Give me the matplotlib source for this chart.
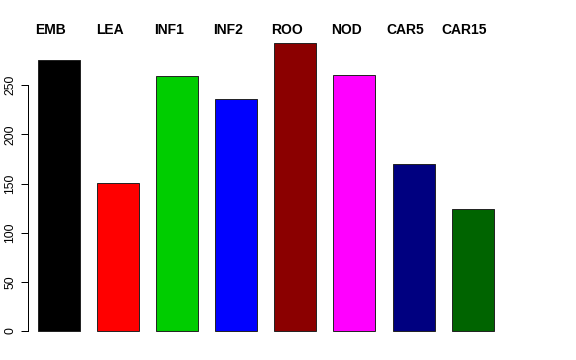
import matplotlib
matplotlib.use("Agg")
import matplotlib.pyplot as plt

# data
tissues = ["EMB", "LEA", "INF1", "INF2", "ROO", "NOD", "CAR5", "CAR15"]
counts = [276, 151, 259, 236, 293, 260, 170, 124]
colors = ["#000000", "#FF0000", "#00CD00", "#0000FF",
          "#8B0000", "#FF00FF", "#000080", "#006400"]
yticks = [0, 50, 100, 150, 200, 250]

plt.rcParams['font.family'] = ['Liberation Sans', 'DejaVu Sans']

fig = plt.figure(figsize=(5.76, 3.6), dpi=100)
ax = fig.add_axes([28 / 576, 17.5 / 360, 492 / 576, 311 / 360])

x = range(len(tissues))
ax.bar(x, counts, width=0.71, color=colors, edgecolor="#222222", linewidth=0.7)

top = max(counts)
ax.set_ylim(-0.04 * top, 1.04 * top)
ax.set_xlim(-0.523, 7.8)

ax.set_yticks(yticks)
ax.set_yticklabels([str(v) for v in yticks], rotation=90, va="center", fontsize=8.8)
ax.tick_params(axis="y", length=4.8, width=0.72, pad=3.4, color="black")
ax.set_xticks([])

for side in ["top", "right", "bottom"]:
    ax.spines[side].set_visible(False)
ax.spines["left"].set_bounds(0, 250)
ax.spines["left"].set_linewidth(0.72)

# tissue labels above bars
for i, name in enumerate(tissues):
    ax.text(i - 0.14, 0.991, name, transform=ax.get_xaxis_transform(),
            ha="center", va="baseline", fontsize=10, fontweight="bold")

fig.savefig("out.png", dpi=100)
plt.close()
